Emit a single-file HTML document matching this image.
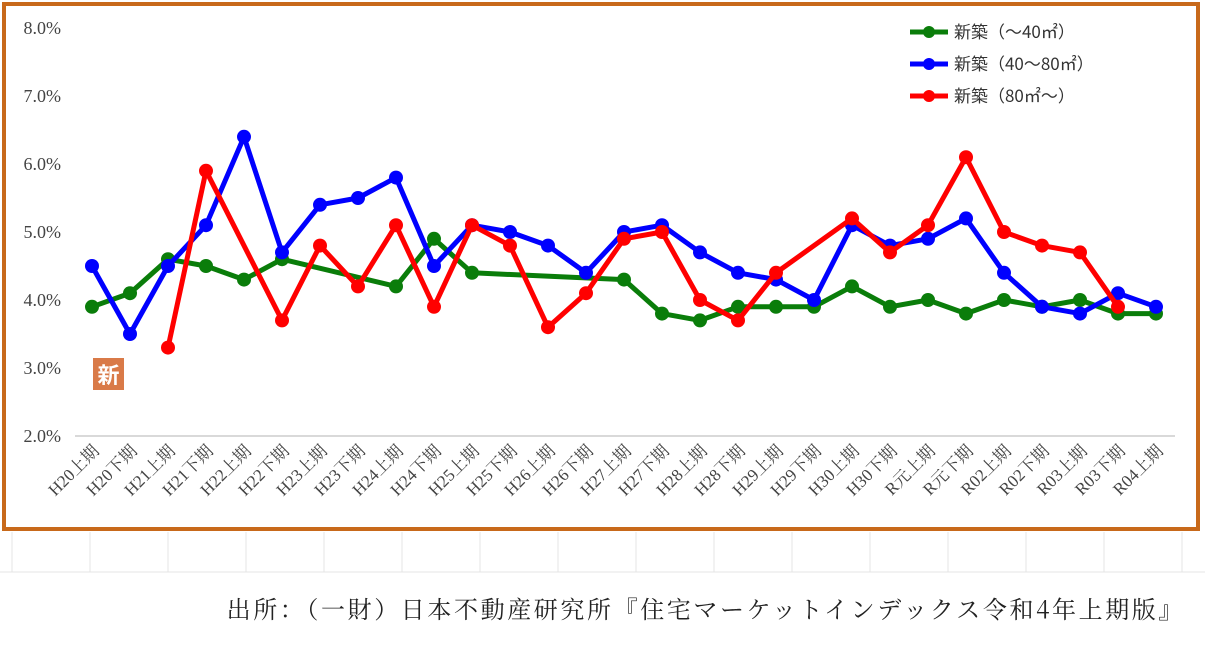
<!DOCTYPE html>
<html><head><meta charset="utf-8"><style>
body{margin:0;width:1205px;height:648px;background:#fff;overflow:hidden;font-family:"Liberation Serif","Noto Serif CJK SC","Noto Sans CJK JP",serif}
</style></head><body>
<svg width="1205" height="648">
<g id="cells" stroke="#e4e4e4" stroke-width="1"></g>
<rect x="4" y="4" width="1194" height="525" fill="#fff" stroke="#c8691a" stroke-width="4"/>
<g id="yax"></g><g id="xax"></g><g id="series"></g>
<rect x="93" y="358" width="31" height="32" fill="#d97a48"/>
<text x="108.5" y="383" text-anchor="middle" font-size="22" fill="#fff" font-weight="bold" font-family="'Noto Sans CJK JP',sans-serif">新</text>
<g id="legend"></g>
<text x="1185" y="618" text-anchor="end" font-size="24" fill="#222" font-family="'Noto Serif CJK SC','Noto Sans CJK JP',serif" letter-spacing="2.6">出所：（一財）日本不動産研究所『住宅マーケットインデックス令和4年上期版』</text>
</svg>
<script>
const categories=["H20上期","H20下期","H21上期","H21下期","H22上期","H22下期","H23上期","H23下期","H24上期","H24下期","H25上期","H25下期","H26上期","H26下期","H27上期","H27下期","H28上期","H28下期","H29上期","H29下期","H30上期","H30下期","R元上期","R元下期","R02上期","R02下期","R03上期","R03下期","R04上期"];
const small=[3.9,4.1,4.6,4.5,4.3,4.6,null,null,4.2,4.9,4.4,null,null,null,4.3,3.8,3.7,3.9,3.9,3.9,4.2,3.9,4.0,3.8,4.0,3.9,4.0,3.8,3.8];
const mid=[4.5,3.5,4.5,5.1,6.4,4.7,5.4,5.5,5.8,4.5,5.1,5.0,4.8,4.4,5.0,5.1,4.7,4.4,4.3,4.0,5.1,4.8,4.9,5.2,4.4,3.9,3.8,4.1,3.9];
const large=[null,null,3.3,5.9,null,3.7,4.8,4.2,5.1,3.9,5.1,4.8,3.6,4.1,4.9,5.0,4.0,3.7,4.4,null,5.2,4.7,5.1,6.1,5.0,4.8,4.7,3.9,null];
const yTicks=[2,3,4,5,6,7,8];
const seriesNames=["新築（～40㎡）","新築（40～80㎡）","新築（80㎡～）"];
const NS="http://www.w3.org/2000/svg";
const X0=92,X1=1156,Y0=436,YT=28;
const xs=i=>X0+i*(X1-X0)/(categories.length-1);
const ys=v=>Y0-(v-2)*(Y0-YT)/6;
function mk(t,a,p){const e=document.createElementNS(NS,t);for(const k in a)e.setAttribute(k,a[k]);p.appendChild(e);return e;}
const cells=document.getElementById('cells');
for(let x=12;x<1205;x+=78){const l=mk('line',{x1:x,y1:532,x2:x,y2:572},cells);}
mk('line',{x1:0,y1:572,x2:1205,y2:572},cells);
const yax=document.getElementById('yax');
mk('line',{x1:75,y1:Y0,x2:1175,y2:Y0,stroke:'#d9d9d9','stroke-width':2},yax);
yTicks.forEach(v=>{const t=mk('text',{x:61,y:ys(v)+6,'text-anchor':'end','font-size':18,fill:'#444'},yax);t.textContent=v.toFixed(1)+'%';

});
const xax=document.getElementById('xax');
categories.forEach((c,i)=>{const x=xs(i)+8,y=452;const t=mk('text',{x:x,y:y,'text-anchor':'end','font-size':17,fill:'#444',transform:`rotate(-45 ${x} ${y})`},xax);t.textContent=c;

});
const sg=document.getElementById('series');
function draw(arr,col,name){const g=mk('g',{},sg);
const pts=[];arr.forEach((v,i)=>{if(v!=null)pts.push([xs(i),ys(v)]);});
mk('polyline',{points:pts.map(p=>p.join(',')).join(' '),fill:'none',stroke:col,'stroke-width':5,'stroke-linejoin':'round'},g);
pts.forEach(p=>{const c=mk('circle',{cx:p[0],cy:p[1],r:7,fill:col},g);});}
draw(small,'#0a7d0a','series-small');draw(mid,'#0000ff','series-mid');draw(large,'#ff0000','series-large');
const lg=document.getElementById('legend');const cols=['#0a7d0a','#0000ff','#ff0000'];
seriesNames.forEach((n,i)=>{const y=32+i*32;const g=mk('g',{},lg);
mk('line',{x1:910,y1:y,x2:948,y2:y,stroke:cols[i],'stroke-width':5},g);mk('circle',{cx:929,cy:y,r:6,fill:cols[i]},g);
const t=mk('text',{x:954,y:y+6,'font-size':17,fill:'#333','font-family':"'Noto Sans CJK JP',sans-serif"},g);t.textContent=n;});
</script>
</body></html>
